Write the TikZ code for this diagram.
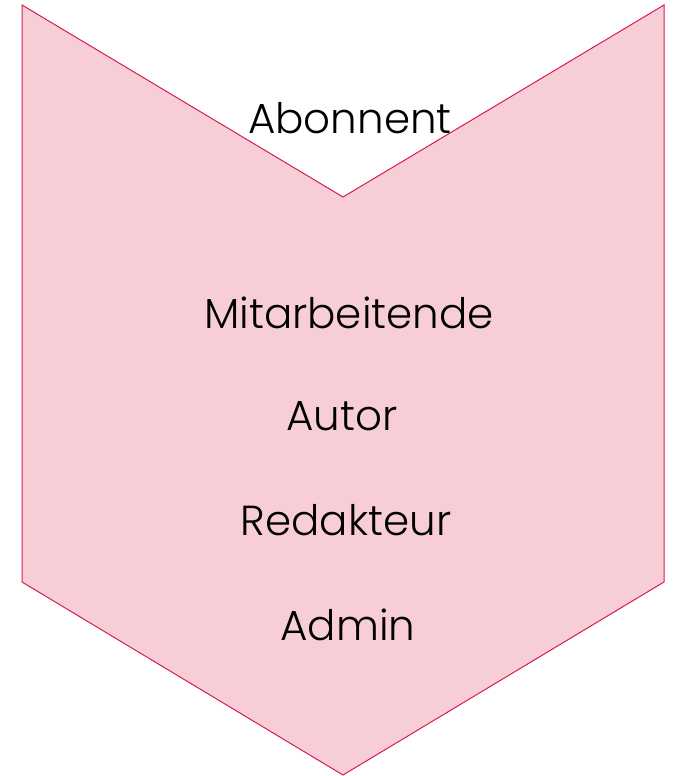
\documentclass[tikz,border=0pt]{standalone}
\usepackage{fontspec}
\setmainfont{Poppins}[UprightFont=* Light]
\definecolor{chevfill}{HTML}{F7CED6}
\definecolor{chevline}{HTML}{D81B55}
\begin{document}
\begin{tikzpicture}[x=1pt,y=-1pt,
  lbl/.style={anchor=base,font=\fontsize{42}{50}\selectfont,text=black,inner sep=0pt}]
\useasboundingbox (0,0) rectangle (674,776);
\draw[fill=chevfill,draw=chevline,line width=1pt]
  (22,5) -- (343,197) -- (664,5) -- (664,582) -- (343,775) -- (22,582) -- cycle;
\node[lbl] (abonnent) at (350,133) {Abonnent};
\node[lbl] (mitarb) at (349,328) {Mitarbeitende};
\node[lbl] (autor) at (342,430) {Autor};
\node[lbl] (redak) at (346,535) {Redakteur};
\node[lbl] (admin) at (348,640) {Admin};
\end{tikzpicture}
\end{document}
